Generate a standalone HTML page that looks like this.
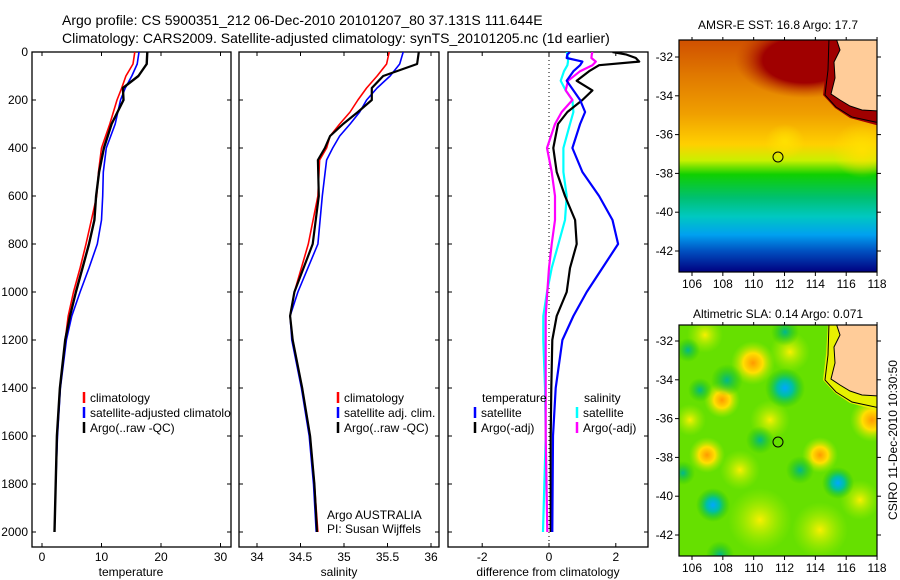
<!DOCTYPE html>
<html><head><meta charset="utf-8"><style>
html,body{margin:0;padding:0;background:#fff;}
svg{display:block;font-family:"Liberation Sans",sans-serif;}
</style></head><body>
<svg id="fig" width="900" height="580" viewBox="0 0 900 580">
<text x="62" y="25" font-size="14">Argo profile: CS 5900351_212 06-Dec-2010 20101207_80 37.131S 111.644E</text>
<text x="62" y="43" font-size="14">Climatology: CARS2009. Satellite-adjusted climatology: synTS_20101205.nc (1d earlier)</text>
<defs>
<clipPath id="c1"><rect x="32" y="52" width="199" height="495"/></clipPath>
<clipPath id="c2"><rect x="239" y="52" width="200" height="495"/></clipPath>
<clipPath id="c3"><rect x="448" y="52" width="200" height="495"/></clipPath>
<clipPath id="m1"><rect x="679" y="40" width="198" height="232"/></clipPath>
<clipPath id="m2"><rect x="679" y="325" width="198" height="231"/></clipPath>
<linearGradient id="sst" x1="0" y1="0" x2="0" y2="1">
<stop offset="0" stop-color="#d05000"/><stop offset="0.15" stop-color="#e07800"/>
<stop offset="0.32" stop-color="#f0a000"/><stop offset="0.45" stop-color="#ffd000"/>
<stop offset="0.52" stop-color="#c8f000"/><stop offset="0.58" stop-color="#10d000"/>
<stop offset="0.68" stop-color="#00c070"/><stop offset="0.76" stop-color="#00c8c0"/>
<stop offset="0.84" stop-color="#00a0f0"/><stop offset="0.91" stop-color="#0050c0"/>
<stop offset="1" stop-color="#000080"/></linearGradient>
<radialGradient id="yel"><stop offset="0" stop-color="#ff9a00"/><stop offset="0.45" stop-color="#ffe000"/><stop offset="1" stop-color="#a8f000" stop-opacity="0"/></radialGradient>
<radialGradient id="yel2"><stop offset="0" stop-color="#f8f000"/><stop offset="1" stop-color="#a8f000" stop-opacity="0"/></radialGradient>
<radialGradient id="tea"><stop offset="0" stop-color="#00a8ff"/><stop offset="0.4" stop-color="#00c0a0"/><stop offset="1" stop-color="#10c000" stop-opacity="0"/></radialGradient>
<radialGradient id="tea2"><stop offset="0" stop-color="#00b890"/><stop offset="1" stop-color="#10c000" stop-opacity="0"/></radialGradient>
<radialGradient id="dred"><stop offset="0" stop-color="#a00000"/><stop offset="0.6" stop-color="#a00000"/><stop offset="1" stop-color="#c04000" stop-opacity="0"/></radialGradient>
<radialGradient id="yfill"><stop offset="0" stop-color="#ffe000"/><stop offset="1" stop-color="#ffe000" stop-opacity="0"/></radialGradient>
</defs>
<g id="plots"></g>
<g id="maps"></g>
</svg>
<script>
// ---- data ----
const depths = [0,50,100,150,200,300,400,500,600,700,800,900,1000,1100,1200,1400,1600,1800,2000];
const tempClim = [15.6,15.3,14.1,13.4,12.6,11.4,10.0,9.5,9.2,8.3,7.4,6.4,5.3,4.4,3.9,3.0,2.5,2.3,2.1];
const tempSat  = [16.3,16.0,15.1,14.0,13.2,12.3,10.8,10.3,10.2,10.0,9.3,7.9,6.4,5.0,4.1,3.1,2.6,2.3,2.1];
const tempArgo = [17.7,17.6,16.2,13.6,13.7,11.7,10.4,9.6,9.1,8.8,7.9,6.8,5.7,4.7,3.9,3.0,2.5,2.3,2.1];
const sDepths = [0,50,100,150,200,250,300,350,400,450,600,800,1000,1100,1200,1400,1600,1800,2000];
const salClim = [35.52,35.49,35.38,35.26,35.16,35.07,34.95,34.84,34.80,34.72,34.70,34.59,34.43,34.38,34.41,34.52,34.61,34.66,34.70];
const salSat  = [35.68,35.64,35.53,35.38,35.26,35.18,35.07,34.95,34.87,34.80,34.75,34.70,34.47,34.38,34.40,34.51,34.60,34.65,34.68];
const salArgo = [35.86,35.84,35.45,35.32,35.32,35.16,34.99,34.84,34.78,34.70,34.71,34.64,34.43,34.38,34.41,34.52,34.61,34.66,34.69];
const dDepths = [0,10,25,40,55,80,120,160,200,250,300,400,500,600,700,800,900,1000,1100,1200,1400,1600,2000];
const dTempArgo = [1.9,2.3,2.6,2.7,1.5,1.2,0.83,1.3,1.0,0.55,0.27,0.13,0.23,0.48,0.78,0.83,0.63,0.53,0.23,0.1,0.07,0.05,0.05];
const dTempSat  = [0.63,0.55,0.53,1.0,0.93,0.73,0.53,0.73,0.93,1.08,0.93,0.7,1.0,1.5,1.9,2.07,1.6,1.13,0.73,0.4,0.2,0.12,0.1];
const dSalArgo  = [1.3,1.28,1.27,1.4,1.3,0.93,0.57,0.5,0.7,0.38,0.18,-0.06,0.08,0.18,0.18,0.08,0,-0.05,-0.1,-0.1,-0.1,-0.1,-0.05];
const dSalSat   = [0.53,0.55,0.57,0.57,0.55,0.45,0.35,0.5,0.7,0.73,0.63,0.43,0.43,0.53,0.48,0.28,0.08,-0.06,-0.17,-0.17,-0.12,-0.1,-0.18];
const depthTicks = [0,200,400,600,800,1000,1200,1400,1600,1800,2000];
const tempTicks = [0,10,20,30];
const salTicks = [34,34.5,35,35.5,36];
const diffTicks = [-2,0,2];
const lonTicks = [106,108,110,112,114,116,118];
const latTicks = [-32,-34,-36,-38,-40,-42];

const NS="http://www.w3.org/2000/svg";
function mk(tag,attrs,parent){const e=document.createElementNS(NS,tag);for(const k in attrs)e.setAttribute(k,attrs[k]);parent.appendChild(e);return e;}
const plots=document.getElementById('plots');
const maps=document.getElementById('maps');
const Y0=52,Y1=547;
const yD=d=>52+d*0.24;
const xT=t=>42+t*5.95;
const xS=s=>257+(s-34)*87;
const xDf=v=>549+v*33.4;

function frame(x0,x1,name){
  const r=mk('rect',{x:x0,y:Y0,width:x1-x0,height:Y1-Y0,fill:'none',stroke:'#000','stroke-width':1.3},plots);
  
  
  depthTicks.forEach(d=>{
    mk('line',{x1:x0,x2:x0+4,y1:yD(d),y2:yD(d),stroke:'#000'},plots);
    mk('line',{x1:x1-4,x2:x1,y1:yD(d),y2:yD(d),stroke:'#000'},plots);
  });
}
function xticks(ticks,fx,labelFmt,axisName){
  ticks.forEach(t=>{
    const x=fx(t);
    mk('line',{x1:x,x2:x,y1:Y0,y2:Y0+4,stroke:'#000'},plots);
    mk('line',{x1:x,x2:x,y1:Y1-4,y2:Y1,stroke:'#000'},plots);
    const tx=mk('text',{x:x,y:561,'font-size':12,'text-anchor':'middle'},plots);
    tx.textContent=labelFmt(t);
    
    
  });
}
function line(xs,ds,fx,color,w,clip,name){
  const pts=xs.map((v,i)=>fx(v).toFixed(1)+','+yD(ds[i]).toFixed(1)).join(' ');
  const p=mk('polyline',{points:pts,fill:'none',stroke:color,'stroke-width':w,'stroke-linejoin':'round','clip-path':'url(#'+clip+')'},plots);
  
  
}
function txt(x,y,s,name,size,anchor,parent){
  const t=mk('text',{x:x,y:y,'font-size':size||12,'text-anchor':anchor||'start'},parent||plots);
  t.textContent=s;
  
  
  return t;
}
function legend(x,y,color,label,name,clip){
  mk('line',{x1:x,x2:x,y1:y-6,y2:y+5,stroke:color,'stroke-width':2.5},plots);
  const t=txt(x+6,y+4,label,name);
  if(clip)t.setAttribute('clip-path','url(#'+clip+')');
}

// panel 1
frame(32,231,'temperature-panel');
depthTicks.forEach(d=>{txt(28,yD(d)+4,String(d),'depth-tick-label',12,'end');});
xticks(tempTicks,xT,t=>String(t),'temperature');
txt(131,576,'temperature','x-axis-title-temperature',12,'middle');
line(tempClim,depths,xT,'#f00',1.6,'c1','temp-climatology-line');
line(tempSat,depths,xT,'#00f',1.6,'c1','temp-satellite-line');
line(tempArgo,depths,xT,'#000',2.4,'c1','temp-argo-line');
legend(84,398,'#f00','climatology','legend-climatology');
legend(84,413,'#00f','satellite-adjusted climatology','legend-satellite-adjusted','c1');
legend(84,428,'#000','Argo(..raw -QC)','legend-argo');

// panel 2
frame(239,439,'salinity-panel');
xticks(salTicks,xS,t=>String(t),'salinity');
txt(339,576,'salinity','x-axis-title-salinity',12,'middle');
line(salClim,sDepths,xS,'#f00',1.6,'c2','sal-climatology-line');
line(salSat,sDepths,xS,'#00f',1.6,'c2','sal-satellite-line');
line(salArgo,sDepths,xS,'#000',2.2,'c2','sal-argo-line');
legend(338,398,'#f00','climatology','legend-sal-climatology');
legend(338,413,'#00f','satellite adj. clim.','legend-sal-satellite');
legend(338,428,'#000','Argo(..raw -QC)','legend-sal-argo');
txt(327,519,'Argo AUSTRALIA','argo-australia-label');
txt(327,533,'PI: Susan Wijffels','pi-label');

// panel 3
frame(448,648,'difference-panel');
mk('line',{x1:xDf(0),x2:xDf(0),y1:Y0,y2:Y1,stroke:'#000','stroke-dasharray':'1,3'},plots);
xticks(diffTicks,xDf,t=>String(t),'difference');
txt(548,576,'difference from climatology','x-axis-title-difference',12,'middle');
line(dSalSat,dDepths,xDf,'#0ff',2.2,'c3','sal-diff-satellite-line');
line(dSalArgo,dDepths,xDf,'#f0f',2.2,'c3','sal-diff-argo-line');
line(dTempArgo,dDepths,xDf,'#000',2.2,'c3','temp-diff-argo-line');
line(dTempSat,dDepths,xDf,'#00f',2.2,'c3','temp-diff-satellite-line');
txt(482,402,'temperature','legend-temperature-header');
txt(584,402,'salinity','legend-salinity-header');
legend(475,413,'#00f','satellite','legend-temp-satellite');
legend(475,428,'#000','Argo(-adj)','legend-temp-argo');
legend(577,413,'#0ff','satellite','legend-sal-satellite-diff');
legend(577,428,'#f0f','Argo(-adj)','legend-sal-argo-diff');

// ---- maps ----
const xL=lon=>692+(lon-106)*15.42;
function mapAxes(top,bot,lat32,lat42,name){
  const yL=lat=>lat32+(-32-lat)*(lat42-lat32)/10;
  const r=mk('rect',{x:679,y:top,width:198,height:bot-top,fill:'none',stroke:'#000','stroke-width':1.2},maps);
  
  
  lonTicks.forEach(l=>{
    mk('line',{x1:xL(l),x2:xL(l),y1:bot,y2:bot+4,stroke:'#000'},maps);
    mk('line',{x1:xL(l),x2:xL(l),y1:top,y2:top-3,stroke:'#000'},maps);
    txt(xL(l),bot+16,String(l),name+'-lon-label',12,'middle',maps);
  });
  latTicks.forEach(l=>{
    mk('line',{x1:675,x2:679,y1:yL(l),y2:yL(l),stroke:'#000'},maps);
    mk('line',{x1:877,x2:881,y1:yL(l),y2:yL(l),stroke:'#000'},maps);
    txt(673,yL(l)+4,String(l),name+'-lat-label',12,'end',maps);
  });
}
function land(dy,clip,strip){
  const g=mk('g',{'clip-path':'url(#'+clip+')'},maps);
  const off=v=>v+dy;
  mk('path',{d:`M828,${off(38)} L826,${off(70)} L823,${off(95)} L835,${off(108)} L850,${off(118)} L880,${off(126)} L880,${off(38)} Z`,fill:strip},g);
  const l=mk('path',{d:`M836,${off(38)} L840,${off(50)} L834,${off(62)} L835,${off(78)} L831,${off(94)} L840,${off(100)} L850,${off(106)} L862,${off(110)} L880,${off(111)} L880,${off(38)} Z`,fill:'#ffcc99',stroke:'#000','stroke-width':1},g);
  
  
  mk('path',{d:`M829,${off(38)} L828,${off(70)} L825,${off(95)} L836,${off(107)} L852,${off(117)} L880,${off(123)}`,fill:'none',stroke:'#000','stroke-width':1},g);
}
// SST map
const g1=mk('g',{'clip-path':'url(#m1)'},maps);
mk('rect',{x:679,y:40,width:198,height:232,fill:'url(#sst)'},g1);
mk('ellipse',{cx:805,cy:60,rx:70,ry:38,fill:'url(#dred)'},g1);
mk('ellipse',{cx:862,cy:150,rx:30,ry:28,fill:'url(#yfill)'},g1);
mk('ellipse',{cx:785,cy:142,rx:20,ry:18,fill:'url(#yfill)'},g1);
land(0,'m1','#a00000');
mapAxes(40,272,57,251,'sst-map');
const mk1=mk('circle',{cx:778,cy:157,r:5,fill:'none',stroke:'#000'},maps);


txt(778,29,'AMSR-E SST: 16.8 Argo: 17.7','sst-map-title',12,'middle',maps);

// SLA map
const g2=mk('g',{'clip-path':'url(#m2)'},maps);
mk('rect',{x:679,y:325,width:198,height:231,fill:'#66e000'},g2);
const yB=[[753,363,22,'yel'],[722,400,18,'yel'],[707,455,18,'yel'],[770,420,20,'yel2'],[820,455,18,'yel'],[872,420,22,'yel'],[790,352,20,'yel2'],[705,335,18,'yel2'],[760,520,32,'yel2'],[820,530,28,'yel2'],[845,360,22,'yel2'],[690,420,16,'yel2'],[740,470,20,'yel2'],[860,500,20,'yel2']];
yB.forEach(b=>mk('circle',{cx:b[0],cy:b[1],r:b[2],fill:'url(#'+b[3]+')'},g2));
const tB=[[785,388,20,'tea'],[727,380,16,'tea2'],[838,483,16,'tea'],[713,505,17,'tea'],[785,332,14,'tea2'],[683,473,12,'tea2'],[688,350,12,'tea2'],[800,470,14,'tea2'],[720,555,14,'tea2'],[760,440,14,'tea2'],[700,390,12,'tea2']];
tB.forEach(b=>mk('circle',{cx:b[0],cy:b[1],r:b[2],fill:'url(#'+b[3]+')'},g2));
land(285,'m2','#e8f000');
mapAxes(325,556,341,535,'sla-map');
const mk2=mk('circle',{cx:778,cy:442,r:5,fill:'#66e000',stroke:'#000'},maps);


txt(778,318,'Altimetric SLA: 0.14 Argo: 0.071','sla-map-title',12,'middle',maps);
const st=txt(0,0,'CSIRO 11-Dec-2010 10:30:50','csiro-timestamp',12,'middle',maps);
st.setAttribute('transform','translate(897,440) rotate(-90)');
</script>
</body></html>
